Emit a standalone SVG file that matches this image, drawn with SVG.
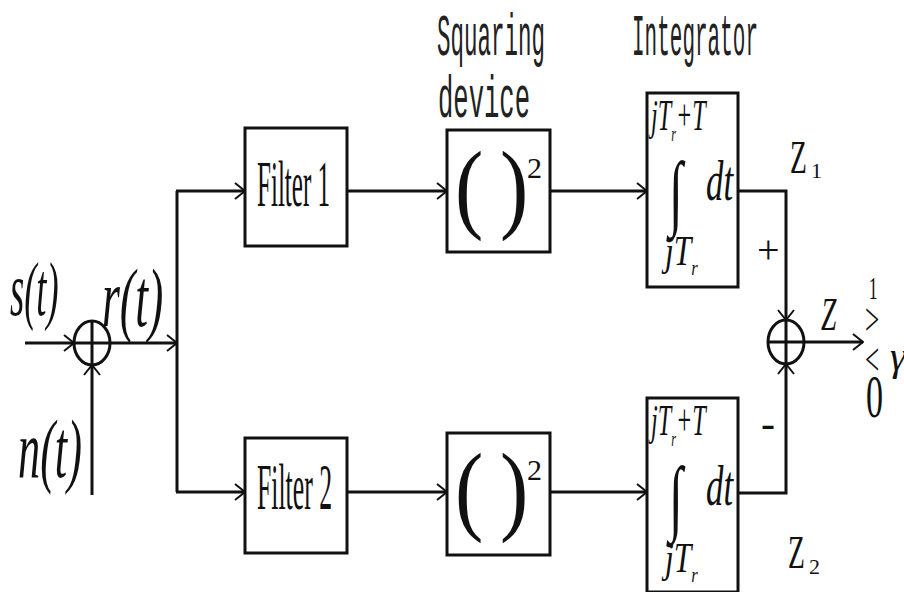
<svg xmlns="http://www.w3.org/2000/svg" width="904" height="592" viewBox="0 0 904 592">
<defs>
<marker id="arr" viewBox="0 0 12 18" refX="11" refY="9" markerWidth="12" markerHeight="18" markerUnits="userSpaceOnUse" orient="auto">
<path d="M1,1 L11,9 L1,17" fill="none" stroke="#111" stroke-width="2"/>
</marker>
</defs>
<style>
.box{fill:#fff;stroke:#111;stroke-width:3}
.ln{fill:none;stroke:#111;stroke-width:3}
.lbl{font-family:"Liberation Mono",monospace;fill:#222;font-size:60px}
.m{font-family:"Liberation Serif",serif;font-style:italic;fill:#111}
.r{font-family:"Liberation Serif",serif;fill:#111}
.sum{fill:none;stroke:#111;stroke-width:3}
</style>
<rect width="904" height="592" fill="#fff"/>

<g id="labels">
<text class="lbl" transform="translate(437,55) scale(0.375,1)">Squaring</text>
<text class="lbl" transform="translate(438,117) scale(0.426,1)">device</text>
<text class="lbl" transform="translate(632,55) scale(0.35,1)">Integrator</text>
<text class="m" font-size="76" transform="translate(10,315) scale(0.48,1)">s(t)</text>
<text class="m" font-size="82" transform="translate(102,326) scale(0.56,1)">r(t)</text>
<text class="m" font-size="82" transform="translate(18,477) scale(0.54,1)">n(t)</text>
<text class="r" font-size="46" transform="translate(790,173) scale(0.6,1)">Z</text>
<text class="r" x="811" y="178" font-size="22">1</text>
<text class="r" x="757" y="263" font-size="40">+</text>
<text class="r" x="761" y="437" font-size="42">-</text>
<text class="r" font-size="46" transform="translate(788,568) scale(0.6,1)">Z</text>
<text class="r" x="809" y="574" font-size="22">2</text>
<text class="m" font-size="46" transform="translate(821,330) scale(0.6,1)">Z</text>
<text class="r" transform="translate(866,0) scale(0.55,1)"><tspan x="5" y="299" font-size="32">1</tspan><tspan x="-2" y="335" font-size="46">&gt;</tspan><tspan x="-2" y="375" font-size="46">&lt;</tspan><tspan x="0" y="417" font-size="62">0</tspan></text>
<text class="m" x="890" y="370" font-size="40">γ</text>
</g>

<g id="connectors">
<path class="ln" d="M25,343 L74,343" marker-end="url(#arr)"/>
<path class="ln" d="M92,495 L92,365" marker-end="url(#arr)"/>
<path class="ln" d="M110,343 L177,343" marker-end="url(#arr)"/>
<path class="ln" d="M177,191 L177,492"/>
<path class="ln" d="M176,191 L245,191" stroke-width="4" marker-end="url(#arr)"/>
<path class="ln" d="M176,492 L245,492" marker-end="url(#arr)"/>
<path class="ln" d="M347,191 L447,191" stroke-width="4" marker-end="url(#arr)"/>
<path class="ln" d="M550,191 L647,191" stroke-width="4" marker-end="url(#arr)"/>
<path class="ln" d="M347,492 L447,492" marker-end="url(#arr)"/>
<path class="ln" d="M550,492 L647,492" marker-end="url(#arr)"/>
<path class="ln" d="M738,191 L786,191 L786,320" stroke-width="2.5" marker-end="url(#arr)"/>
<path class="ln" d="M738,493 L786,493 L786,364" stroke-width="2.5" marker-end="url(#arr)"/>
<path class="ln" d="M804,342 L863,342" marker-end="url(#arr)"/>
</g>

<g id="sum1">
<ellipse class="sum" cx="92" cy="343" rx="18" ry="22"/>
<path class="sum" d="M74,343 L110,343 M92,321 L92,365"/>
</g>
<g id="sum2">
<ellipse class="sum" cx="786" cy="342" rx="18" ry="22"/>
<path class="sum" d="M768,342 L804,342 M786,320 L786,364"/>
</g>

<g id="filter1">
<rect class="box" x="245" y="128" width="102" height="118"/>
<text class="r" font-size="66" transform="translate(257,206) scale(0.38,1)">Filter 1</text>
</g>
<g id="filter2">
<rect class="box" x="245" y="438" width="102" height="115"/>
<text class="r" font-size="66" transform="translate(257,509) scale(0.39,1)">Filter 2</text>
</g>

<g id="square1">
<rect class="box" x="447" y="130" width="103" height="122"/>
<text class="r" font-size="100" transform="translate(455,220) scale(0.85,1)">(</text>
<text class="r" font-size="100" transform="translate(500,220) scale(0.85,1)">)</text>
<text class="r" x="527" y="178" font-size="30">2</text>
</g>
<g id="square2">
<rect class="box" x="447" y="433" width="103" height="122"/>
<text class="r" font-size="100" transform="translate(455,522) scale(0.85,1)">(</text>
<text class="r" font-size="100" transform="translate(500,522) scale(0.85,1)">)</text>
<text class="r" x="527" y="480" font-size="30">2</text>
</g>

<g id="integrator1">
<rect class="box" x="647" y="93" width="91" height="194"/>
<text class="m" font-size="44" transform="translate(651,130) scale(0.55,1)">jT<tspan font-size="22" dy="11">r</tspan><tspan dy="-11">+T</tspan></text>
<text class="r" font-size="84" transform="translate(669,220) scale(0.6,1)">∫</text>
<text class="m" font-size="58" transform="translate(706,200) scale(0.6,1)">dt</text>
<text class="m" font-size="42" transform="translate(665,265) scale(0.75,1)">jT<tspan font-size="22" dy="10">r</tspan></text>
</g>
<g id="integrator2">
<rect class="box" x="647" y="398" width="91" height="194"/>
<text class="m" font-size="44" transform="translate(651,435) scale(0.55,1)">jT<tspan font-size="22" dy="11">r</tspan><tspan dy="-11">+T</tspan></text>
<text class="r" font-size="84" transform="translate(669,525) scale(0.6,1)">∫</text>
<text class="m" font-size="58" transform="translate(706,505) scale(0.6,1)">dt</text>
<text class="m" font-size="42" transform="translate(665,572) scale(0.75,1)">jT<tspan font-size="22" dy="10">r</tspan></text>
</g>
</svg>
